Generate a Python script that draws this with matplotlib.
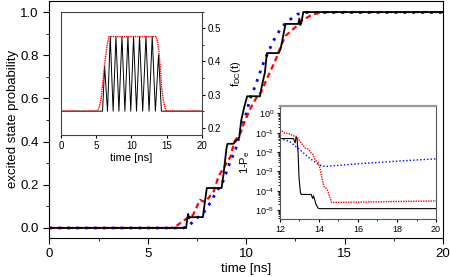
import matplotlib
matplotlib.use('Agg')
import matplotlib.pyplot as plt
from matplotlib.ticker import MultipleLocator, LogLocator, NullFormatter

plt.rcParams['font.family'] = ['Liberation Sans', 'DejaVu Sans']

# main panel: excited state probability vs time
t_black = [0, 6.95, 7.0, 7.05, 7.1, 7.15, 7.8, 7.9, 8.0, 8.75, 8.85, 9.0, 9.05, 9.35, 9.65,
           9.75, 9.9, 10.05, 10.7, 10.8, 10.9, 10.95, 11.05, 11.65, 11.75, 11.9, 12.0, 12.65,
           12.7, 12.75, 12.8, 12.9, 20]
p_black = [0, 0, 0.04, 0.065, 0.045, 0.05, 0.05, 0.12, 0.185, 0.185, 0.25, 0.37, 0.39, 0.39, 0.42,
           0.5, 0.56, 0.61, 0.61, 0.66, 0.70, 0.72, 0.81, 0.81, 0.83, 0.9, 0.945, 0.945,
           0.97, 0.94, 0.95, 1.0, 1.0]

t_blue = [0, 6.8, 7.1, 7.4, 7.8, 8.2, 8.5, 8.8, 9.0, 9.2, 9.45, 9.6, 9.8, 10.0, 10.2, 10.45,
          10.7, 10.9, 11.1, 11.4, 11.7, 12.0, 12.3, 12.6, 13.0, 20]
p_blue = [0, 0, 0.01, 0.04, 0.065, 0.12, 0.17, 0.21, 0.26, 0.31, 0.36, 0.41, 0.47, 0.53, 0.6, 0.655,
          0.72, 0.77, 0.81, 0.87, 0.915, 0.95, 0.97, 0.99, 0.998, 0.998]

t_red = [0, 6.2, 6.5, 6.75, 7.0, 7.3, 7.65, 7.9, 8.1, 8.35, 8.6, 8.8, 9.0, 9.2, 9.4, 9.7, 9.95,
         10.25, 10.5, 10.75, 11.0, 11.3, 11.5, 11.75, 12.0, 12.25, 12.5, 12.8, 13.1, 13.4, 13.8,
         14.2, 20]
p_red = [0, 0, 0.012, 0.03, 0.045, 0.06, 0.13, 0.12, 0.14, 0.17, 0.24, 0.27, 0.30, 0.33, 0.40, 0.44, 0.5,
         0.56, 0.6, 0.63, 0.68, 0.74, 0.78, 0.84, 0.89, 0.91, 0.93, 0.96, 0.975, 0.99, 0.997,
         1.0, 1.0]

# upper-left inset: flux pulse f_DC(t)
t_osc = [0, 5.9, 6.19, 6.6, 6.99, 7.4, 7.8, 8.22, 8.65, 9.07, 9.5, 9.9, 10.3, 10.72, 11.15,
         11.6, 12.06, 12.5, 12.95, 13.4, 13.85, 14.25, 20]
f_osc = [0.25, 0.25, 0.385, 0.25, 0.475, 0.25, 0.475, 0.25, 0.475, 0.25, 0.475, 0.25, 0.475, 0.25, 0.475,
         0.25, 0.475, 0.25, 0.475, 0.25, 0.42, 0.25, 0.25]
t_env = [0, 5.1, 5.4, 5.7, 6.0, 6.3, 6.55, 6.8, 13.5, 13.7, 13.9, 14.1, 14.3, 14.55, 14.8, 15.0, 20]
f_env = [0.25, 0.25, 0.26, 0.29, 0.35, 0.41, 0.45, 0.475, 0.475, 0.46, 0.43, 0.38, 0.32, 0.28, 0.258, 0.25, 0.25]

# lower-right inset: 1 - P_e (log scale)
ti_black = [12, 12.7, 12.78, 12.83, 12.88, 12.93, 12.98, 13.05, 13.1, 13.6, 13.68, 13.72, 13.78,
            13.85, 13.95, 14.0, 20]
e_black = [5e-2, 5e-2, 3e-2, 6e-2, 5e-2, 1e-2, 5e-4, 8e-5, 6.5e-5, 6.5e-5, 4e-5, 5.5e-5, 3.5e-5,
           2e-5, 1.3e-5, 1.2e-5, 1.2e-5]
ti_red = [12, 12.2, 12.45, 12.7, 12.9, 13.0, 13.15, 13.3, 13.45, 13.6, 13.7, 13.8, 13.95, 14.05,
          14.15, 14.25, 14.35, 14.45, 14.55, 14.65, 16, 18, 20]
e_red = [0.15, 0.1, 0.09, 0.07, 0.06, 0.04, 0.025, 0.016, 0.014, 0.009, 0.0075, 0.004, 0.003, 0.0015,
         5e-4, 1.7e-4, 1.4e-4, 1e-4, 5e-5, 2.5e-5, 2.6e-5, 2.8e-5, 3e-5]
ti_blue = [12, 12.5, 13.0, 13.5, 14.0, 14.3, 16, 18, 20]
e_blue = [5e-2, 3.5e-2, 1.4e-2, 5e-3, 2.2e-3, 1.8e-3, 2.5e-3, 3.4e-3, 4.5e-3]

fig = plt.figure(figsize=(4.5, 2.77), dpi=100)

ax = fig.add_axes([0.1096, 0.142, 0.875, 0.855])
ax.plot(t_black, p_black, color='black', lw=1.3, zorder=3)
ax.plot(t_blue, p_blue, color='#0000ff', lw=2, ls=(0, (1, 2.2)), zorder=2)
ax.plot(t_red, p_red, color='#ff0000', lw=1.6, ls=(0, (2.5, 1.6)), zorder=2)
ax.set_xlim(0, 20)
ax.set_ylim(-0.045, 1.052)
ax.xaxis.set_major_locator(MultipleLocator(5))
ax.xaxis.set_minor_locator(MultipleLocator(2.5))
ax.yaxis.set_major_locator(MultipleLocator(0.2))
ax.yaxis.set_minor_locator(MultipleLocator(0.1))
ax.yaxis.set_major_formatter(plt.FormatStrFormatter('%.1f'))
ax.tick_params(which='major', length=4, labelsize=9.5)
ax.tick_params(which='minor', length=2)
ax.set_xlabel('time [ns]', fontsize=9.5, labelpad=2)
ax.set_ylabel('excited state probability', fontsize=9.5, labelpad=1)

# upper-left inset
ax1 = fig.add_axes([0.1356, 0.5126, 0.313, 0.445])
ax1.plot(t_osc, f_osc, color='black', lw=0.7)
ax1.plot(t_env, f_env, color='#ff0000', lw=1.0, ls=(0, (1, 0.6)))
ax1.set_xlim(0, 20)
ax1.set_ylim(0.178, 0.55)
ax1.yaxis.tick_right()
ax1.yaxis.set_label_position('right')
ax1.xaxis.set_major_locator(MultipleLocator(5))
ax1.yaxis.set_major_locator(MultipleLocator(0.1))
ax1.yaxis.set_minor_locator(MultipleLocator(0.05))
ax1.tick_params(which='major', length=2.5, labelsize=7, pad=1.5)
ax1.tick_params(which='minor', length=1.5)
for s in ax1.spines.values():
    s.set_color('#444444')
    s.set_linewidth(0.8)
ax1.set_xlabel('time [ns]', fontsize=8, labelpad=2)
ax1.set_ylabel('$\\mathregular{f_{DC}(t)}$', fontsize=8, labelpad=6)

# lower-right inset
ax2 = fig.add_axes([0.622, 0.2094, 0.347, 0.409])
ax2.plot(ti_black, e_black, color='black', lw=0.8)
ax2.plot(ti_red, e_red, color='#ff0000', lw=1.0, ls=(0, (1, 0.8)))
ax2.plot(ti_blue, e_blue, color='#0000ff', lw=1.0, ls=(0, (1, 1.5)))
ax2.set_yscale('log')
ax2.set_xlim(12, 20)
ax2.set_ylim(3.5e-6, 2.5)
ax2.xaxis.set_major_locator(MultipleLocator(2))
ax2.xaxis.set_minor_locator(MultipleLocator(1))
ax2.yaxis.set_major_locator(LogLocator(base=10, numticks=10))
ax2.yaxis.set_minor_formatter(NullFormatter())
ax2.tick_params(which='major', length=2.5, labelsize=6.5, pad=1.5)
ax2.tick_params(which='minor', length=1.2)
for s in ax2.spines.values():
    s.set_color('#555555')
    s.set_linewidth(0.8)
ax2.spines['top'].set_color('#999999')
ax2.spines['top'].set_linewidth(1.6)
ax2.set_ylabel('1-P$_\\mathregular{e}$', fontsize=8, labelpad=2)

fig.savefig('out.png', dpi=100)
